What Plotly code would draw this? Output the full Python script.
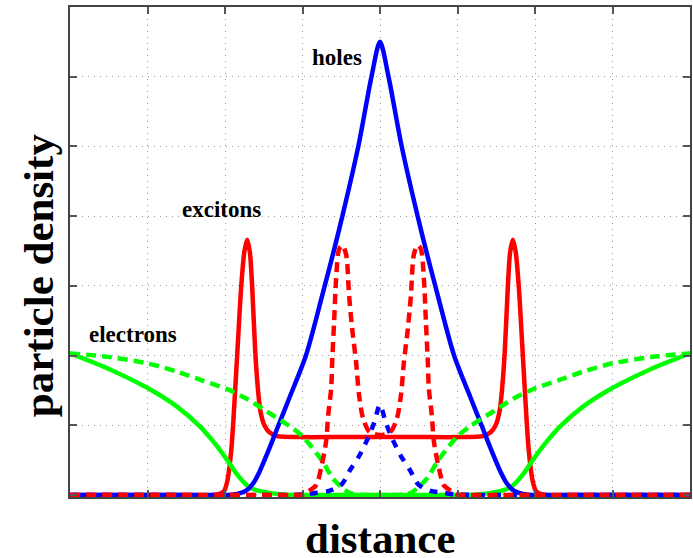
import plotly.graph_objects as go

# Particle density profiles across the structure (arbitrary units)
holes_x = [-4, -2.3, -1.95, -1.84, -1.727, -1.64, -1.556, -1.43, -1.31, -1.17, -0.956, -0.746, -0.527, -0.28, -0.11, 0,
           0.11, 0.28, 0.527, 0.746, 0.956, 1.17, 1.31, 1.43, 1.556, 1.64, 1.727, 1.84, 1.95, 2.3, 4]
holes_y = [0, 0, 0, 0.015, 0.06, 0.16, 0.33, 0.66, 1.0, 1.39, 2.0, 2.86, 3.81, 5.0, 6.0, 6.5,
           6.0, 5.0, 3.81, 2.86, 2.0, 1.39, 1.0, 0.66, 0.33, 0.16, 0.06, 0.015, 0, 0, 0]

holes2_x = [-4, -1.2, -0.95, -0.82, -0.656, -0.5, -0.386, -0.27, -0.167, -0.077, 0,
            0.077, 0.167, 0.27, 0.386, 0.5, 0.656, 0.82, 0.95, 1.2, 4]
holes2_y = [0, 0, 0.01, 0.03, 0.057, 0.143, 0.357, 0.557, 0.786, 1.03, 1.29,
            1.03, 0.786, 0.557, 0.357, 0.143, 0.057, 0.03, 0.01, 0, 0]

exc_x = [-4, -2.6, -2.15, -2.06, -2.01, -1.97, -1.92, -1.89, -1.84, -1.79, -1.75, -1.714, -1.68, -1.65, -1.61,
         -1.576, -1.543, -1.492, -1.428, -1.325, -1.04, -0.5, 0,
         0.5, 1.04, 1.325, 1.428, 1.492, 1.543, 1.576, 1.61, 1.65, 1.68, 1.714, 1.75, 1.79, 1.84, 1.89,
         1.92, 1.97, 2.01, 2.06, 2.15, 2.6, 4]
exc_y = [0, 0, 0, 0.02, 0.06, 0.2, 0.63, 1.1, 2.06, 3.0, 3.49, 3.66, 3.49, 3.0, 2.06,
         1.53, 1.2, 1.0, 0.9, 0.843, 0.83, 0.83, 0.83,
         0.83, 0.83, 0.843, 0.9, 1.0, 1.2, 1.53, 2.06, 3.0, 3.49, 3.66, 3.49, 3.0, 2.06, 1.1,
         0.63, 0.2, 0.06, 0.02, 0, 0, 0]

exc2_x = [-4, -1.5, -1.042, -0.977, -0.913, -0.823, -0.759, -0.695, -0.669, -0.63, -0.617, -0.592, -0.566,
          -0.527, -0.485, -0.437, -0.399, -0.36, -0.309, -0.27, -0.219, -0.141, -0.064, 0,
          0.064, 0.141, 0.219, 0.27, 0.309, 0.36, 0.399, 0.437, 0.485, 0.527, 0.566, 0.592, 0.617,
          0.63, 0.669, 0.695, 0.759, 0.823, 0.913, 0.977, 1.042, 1.5, 4]
exc2_y = [0, 0, 0, 0.01, 0.06, 0.14, 0.39, 0.77, 1.14, 1.53, 1.91, 2.49, 3.1,
          3.53, 3.58, 3.45, 2.86, 2.39, 1.91, 1.43, 1.1, 0.91, 0.87, 0.86,
          0.87, 0.91, 1.1, 1.43, 1.91, 2.39, 2.86, 3.45, 3.58, 3.53, 3.1, 2.49, 1.91,
          1.53, 1.14, 0.77, 0.39, 0.14, 0.06, 0.01, 0, 0, 0]

elec_x = [-4, -3.485, -3.01, -2.624, -2.328, -2.135, -1.98, -1.839, -1.723, -1.608, -1.428, -1.25, -1.1, 0,
          1.1, 1.25, 1.428, 1.608, 1.723, 1.839, 1.98, 2.135, 2.328, 2.624, 3.01, 3.485, 4]
elec_y = [2.03, 1.80, 1.54, 1.27, 0.986, 0.743, 0.514, 0.286, 0.143, 0.071, 0.029, 0.005, 0, 0,
          0, 0.005, 0.029, 0.071, 0.143, 0.286, 0.514, 0.743, 0.986, 1.27, 1.54, 1.80, 2.03]

elec2_x = [-4, -3.575, -3.01, -2.624, -2.29, -1.98, -1.72, -1.466, -1.17, -1.0, -0.742, -0.613, -0.485, -0.4, -0.3, 0,
           0.3, 0.4, 0.485, 0.613, 0.742, 1.0, 1.17, 1.466, 1.72, 1.98, 2.29, 2.624, 3.01, 3.575, 4]
elec2_y = [2.03, 1.99, 1.89, 1.77, 1.64, 1.52, 1.38, 1.2, 0.99, 0.84, 0.48, 0.243, 0.1, 0.03, 0.005, 0,
           0.005, 0.03, 0.1, 0.243, 0.48, 0.84, 0.99, 1.2, 1.38, 1.52, 1.64, 1.77, 1.89, 1.99, 2.03]

RED, GREEN, BLUE = "#ff0000", "#00ff00", "#0000ff"
LW = 4.5

fig = go.Figure()

def curve(x, y, color, dash="solid"):
    fig.add_trace(go.Scatter(
        x=x, y=y, mode="lines",
        line=dict(color=color, width=LW, dash=dash, shape="spline", smoothing=0.8),
        hoverinfo="skip", showlegend=False))

curve(exc_x, exc_y, RED)
curve(elec_x, elec_y, GREEN)
curve(holes_x, holes_y, BLUE)
curve(elec2_x, elec2_y, GREEN, "10px,6px")
curve(holes2_x, holes2_y, BLUE, "8px,8px")
curve(exc2_x, exc2_y, RED, "10px,6px")

serif = "Liberation Serif, Times New Roman, serif"

axis_common = dict(
    showticklabels=False, ticks="inside", ticklen=7, tickwidth=1.5, tickcolor="#555",
    showline=True, linecolor="#444", linewidth=1.5, mirror="ticks",
    showgrid=True, gridcolor="#9a9a9a", gridwidth=1, griddash="1px,5px",
    zeroline=False, dtick=1,
)

fig.update_layout(
    width=693, height=558,
    margin=dict(l=70, r=1, t=7, b=61),
    paper_bgcolor="white", plot_bgcolor="white",
    xaxis=dict(range=[-4, 4], tick0=0, **axis_common),
    yaxis=dict(range=[-0.03, 7], tick0=0, **axis_common),
    font=dict(family=serif, color="black"),
)

labels = [
    ("holes", -0.553, 6.28),
    ("excitons", -2.04, 4.1),
    ("electrons", -3.19, 2.3),
]
for text, x, y in labels:
    fig.add_annotation(x=x, y=y, xref="x", yref="y", text="<b>%s</b>" % text,
                       showarrow=False, font=dict(family=serif, size=23, color="black"))

fig.add_annotation(x=0.5, y=-0.0857, xref="paper", yref="paper", text="<b>distance</b>",
                   showarrow=False, font=dict(family=serif, size=43, color="black"),
                   xanchor="center", yanchor="middle")
fig.add_annotation(x=-0.0514, y=0.453, xref="paper", yref="paper", text="<b>particle density</b>",
                   showarrow=False, textangle=-90, font=dict(family=serif, size=43, color="black"),
                   xanchor="center", yanchor="middle")

fig.write_html("out.html")
